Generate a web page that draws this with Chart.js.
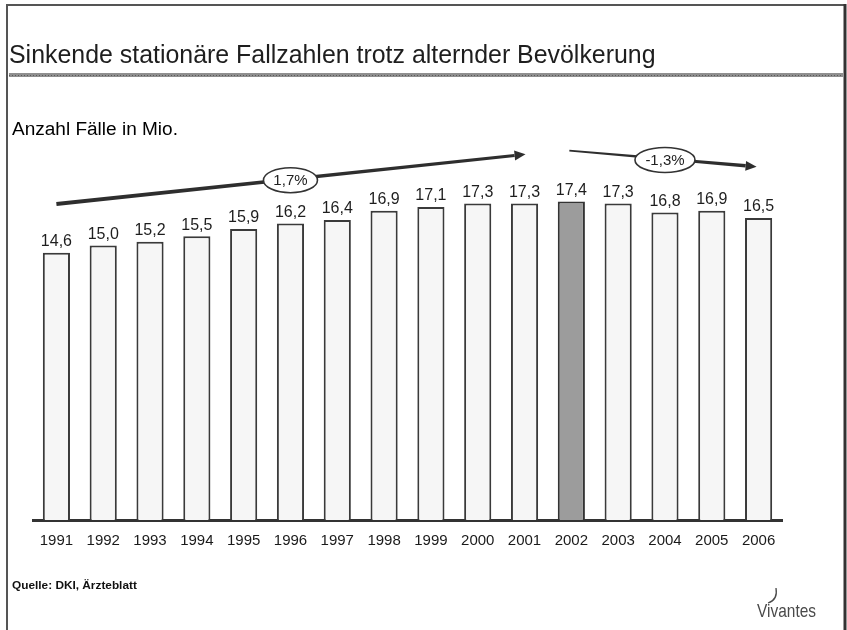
<!DOCTYPE html>
<html><head><meta charset="utf-8">
<script src="https://cdn.jsdelivr.net/npm/chart.js@4.4.1/dist/chart.umd.min.js"></script>
<style>html,body{margin:0;padding:0;background:#fff;}canvas{display:block}</style>
</head><body>
<canvas id="c" width="847" height="630"></canvas>
<script>
const years = ['1991','1992','1993','1994','1995','1996','1997','1998','1999','2000','2001','2002','2003','2004','2005','2006'];
const cases = [14.6,15.0,15.2,15.5,15.9,16.2,16.4,16.9,17.1,17.3,17.3,17.4,17.3,16.8,16.9,16.5];
const highlightYear = '2002';
const trendLabels = ['1,7%','-1,3%'];
const trendRanges = [['1991','2001'],['2002','2006']];
const titleText = 'Sinkende stationäre Fallzahlen trotz alternder Bevölkerung';
const subtitleText = 'Anzahl Fälle in Mio.';
const sourceText = 'Quelle: DKI, Ärzteblatt';
const logoText = 'Vivantes';

const FAM = '"Liberation Sans", Arial, sans-serif';
function fitFont(ctx, text, width, weight){
  ctx.font = weight + ' 100px ' + FAM;
  const w = ctx.measureText(text).width;
  return weight + ' ' + (100*width/w).toFixed(2) + 'px ' + FAM;
}
const fmt = v => v.toFixed(1).replace('.', ',');

const decor = {
  id:'decor',
  beforeDraw(chart){
    const ctx = chart.ctx;
    ctx.save();
    ctx.fillStyle = '#fff';
    ctx.fillRect(0,0,chart.width,chart.height);
    // frame
    ctx.strokeStyle = '#555'; ctx.lineWidth = 2;
    ctx.beginPath(); ctx.moveTo(7,630); ctx.lineTo(7,5); ctx.lineTo(845,5); ctx.stroke();
    ctx.strokeStyle = '#333'; ctx.lineWidth = 3;
    ctx.beginPath(); ctx.moveTo(845,4); ctx.lineTo(845,630); ctx.stroke();
    // title
    ctx.fillStyle = '#1e1e1e'; ctx.textBaseline = 'middle'; ctx.textAlign = 'left';
    ctx.font = fitFont(ctx, titleText, 647, 'normal');
    ctx.fillText(titleText, 9, 56);
    // hatched rule
    ctx.strokeStyle = '#8f8f8f'; ctx.lineWidth = 4;
    ctx.beginPath(); ctx.moveTo(9,75); ctx.lineTo(843,75); ctx.stroke();
    ctx.strokeStyle = '#5a5a5a'; ctx.lineWidth = 1; ctx.setLineDash([1,2]);
    ctx.beginPath(); ctx.moveTo(9,75.5); ctx.lineTo(843,75.5); ctx.stroke();
    ctx.setLineDash([]);
    // subtitle
    ctx.fillStyle = '#000';
    ctx.font = fitFont(ctx, subtitleText, 166, 'normal');
    ctx.fillText(subtitleText, 12, 130);
    // source
    ctx.fillStyle = '#111';
    ctx.font = fitFont(ctx, sourceText, 125, 'bold');
    ctx.fillText(sourceText, 12, 586);
    // logo (condensed by horizontal scale)
    ctx.fillStyle = '#4a4a4a';
    ctx.font = '19px ' + FAM;
    const lw = ctx.measureText(logoText).width;
    ctx.save();
    ctx.translate(757, 612);
    ctx.scale(59/lw, 1);
    ctx.fillText(logoText, 0, 0);
    ctx.restore();
    ctx.strokeStyle = '#4a4a4a'; ctx.lineWidth = 1.3;
    ctx.beginPath(); ctx.moveTo(768,603); ctx.quadraticCurveTo(778,600,776,588); ctx.stroke();
    ctx.restore();
  },
  afterDatasetsDraw(chart){
    const ctx = chart.ctx;
    const meta = chart.getDatasetMeta(0);
    ctx.save();
    ctx.fillStyle = '#1e1e1e'; ctx.font = '16px ' + FAM;
    ctx.textAlign = 'center'; ctx.textBaseline = 'bottom';
    meta.data.forEach((bar,i)=>{
      ctx.fillText(fmt(cases[i]), bar.x, bar.y - 3);
    });
    ctx.restore();
  },
  afterDraw(chart){
    const ctx = chart.ctx;
    const xs = chart.scales.x, ys = chart.scales.y;
    const px = l => xs.getPixelForValue(years.indexOf(l));
    const arrows = [
      {x1:px(trendRanges[0][0]), y1:ys.getPixelForValue(17.27), x2:px(trendRanges[0][1])+1, y2:ys.getPixelForValue(19.98), w1:4, w2:3.2, rx:27},
      {x1:px(trendRanges[1][0])-2, y1:ys.getPixelForValue(20.18), x2:px(trendRanges[1][1])-2, y2:ys.getPixelForValue(19.3), w1:1.8, w2:3.5, rx:30}
    ];
    ctx.save();
    arrows.forEach((a,i)=>{
      const dx=a.x2-a.x1, dy=a.y2-a.y1, len=Math.hypot(dx,dy), ux=dx/len, uy=dy/len, nx=-uy, ny=ux;
      const hl=11, hw=5;
      const bx=a.x2-ux*hl, by=a.y2-uy*hl;
      ctx.fillStyle='#2e2e2e';
      ctx.beginPath();
      ctx.moveTo(a.x1+nx*a.w1/2, a.y1+ny*a.w1/2);
      ctx.lineTo(bx+nx*a.w2/2, by+ny*a.w2/2);
      ctx.lineTo(bx-nx*a.w2/2, by-ny*a.w2/2);
      ctx.lineTo(a.x1-nx*a.w1/2, a.y1-ny*a.w1/2);
      ctx.closePath(); ctx.fill();
      ctx.beginPath();
      ctx.moveTo(a.x2,a.y2);
      ctx.lineTo(bx+nx*hw, by+ny*hw);
      ctx.lineTo(bx-nx*hw, by-ny*hw);
      ctx.closePath(); ctx.fill();
      const i0 = years.indexOf(trendRanges[i][0]), i1 = years.indexOf(trendRanges[i][1]);
      const cx = (xs.getPixelForValue(i0)+xs.getPixelForValue(i1))/2;
      const t = (cx-a.x1)/dx;
      const cy = a.y1 + t*dy + 1;
      ctx.fillStyle='#fff'; ctx.strokeStyle='#333'; ctx.lineWidth=1.6;
      ctx.beginPath(); ctx.ellipse(cx, cy, a.rx, 12.5, 0, 0, Math.PI*2); ctx.fill(); ctx.stroke();
      ctx.fillStyle='#222'; ctx.font='15px '+FAM; ctx.textAlign='center'; ctx.textBaseline='middle';
      ctx.fillText(trendLabels[i], cx, cy+1);
    });
    ctx.restore();
  }
};

new Chart(document.getElementById('c'), {
  type:'bar',
  data:{
    labels: years,
    datasets:[{
      data: cases,
      backgroundColor: years.map(y => y===highlightYear ? '#9c9c9c' : '#f6f6f6'),
      borderColor: years.map(y => y===highlightYear ? '#333' : '#3a3a3a'),
      borderWidth: 2,
      categoryPercentage: 1,
      barPercentage: 0.58
    }]
  },
  options:{
    responsive:false, animation:false, devicePixelRatio:1,
    layout:{padding:{left:33, right:65, top:154, bottom:0}},
    plugins:{legend:{display:false}, tooltip:{enabled:false}},
    scales:{
      y:{display:false, min:0, max:20},
      x:{
        grid:{display:false, drawTicks:false},
        border:{display:true, color:'#333', width:3},
        ticks:{color:'#1a1a1a', font:{family:'"Liberation Sans", Arial, sans-serif', size:15}, padding:12, maxRotation:0, autoSkip:false},
        afterFit(scale){ scale.height = 110; }
      }
    }
  },
  plugins:[decor]
});
</script>
</body></html>
